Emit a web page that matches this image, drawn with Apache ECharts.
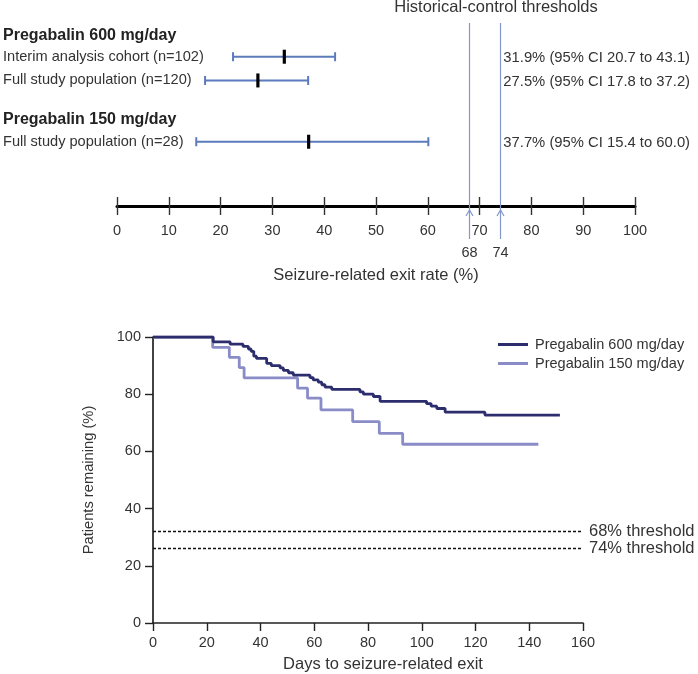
<!DOCTYPE html>
<html>
<head>
<meta charset="utf-8">
<script src="https://cdn.jsdelivr.net/npm/echarts@6/dist/echarts.min.js"></script>
<style>
html,body{margin:0;padding:0;background:#fff;}
#chart{width:698px;height:674px;}
</style>
</head>
<body>
<div id="chart"></div>
<script>
// ---------- Data ----------
const forestLabels = ['Pregabalin 600 mg/day', 'Interim analysis cohort (n=102)', 'Full study population (n=120)', 'Pregabalin 150 mg/day', 'Full study population (n=28)'];
const forestIsHeader = [true, false, false, true, false];
const forestRowPos = [0, 0.925, 1.97, 3.68, 4.67];
const estRowIndex = [1, 2, 4];
const estimates = [32.3, 27.2, 37.0];
const ciLow = [22.4, 17.0, 15.3];
const ciHigh = [42.1, 36.9, 60.1];
const ciText = ['31.9% (95% CI 20.7 to 43.1)', '27.5% (95% CI 17.8 to 37.2)', '37.7% (95% CI 15.4 to 60.0)'];
const thresholds = [68, 74];
const exitTicks = [0, 10, 20, 30, 40, 50, 60, 70, 80, 90, 100];

const km600Days = [0, 22.4, 28.7, 33.5, 35.5, 36.5, 37.5, 38.5, 42.3, 44, 47.3, 48.5, 50.4, 52.2, 58.4, 59.6, 61.5, 62.8, 64, 66.5, 77, 78.3, 82, 84.5, 101.8, 103.5, 105.6, 108.7, 123.5, 151.4];
const km600Vals = [100, 98.3, 97.5, 96.7, 95.8, 95.0, 93.3, 92.5, 90.8, 90.0, 89.2, 88.3, 87.5, 86.7, 85.8, 85.0, 84.2, 83.3, 82.5, 81.7, 80.8, 80.0, 79.2, 77.5, 76.7, 75.8, 75.0, 73.7, 72.7, 72.7];
const km150Days = [0, 22.2, 28.4, 32.1, 33.9, 53.8, 57.5, 62.5, 74.3, 84.2, 92.9, 143.4];
const km150Vals = [100, 96.4, 92.9, 89.3, 85.7, 82.1, 78.6, 74.5, 70.4, 66.3, 62.5, 62.5];

// ---------- Style ----------
const FONT = '"Liberation Sans", Arial, sans-serif';
const TXT = '#333';
const CI_COLOR = '#5b7bbd';
const TH_COLOR = '#8298cc';
const DARK = '#2c2d6d';
const LIGHT = '#8a8cc8';
const Y_MIN = -1.485, Y_MAX = 7.5;

const chart = echarts.init(document.getElementById('chart'), null, {renderer: 'canvas'});

const forestData = estRowIndex.map((r, i) => [ciLow[i], ciHigh[i], estimates[i], forestRowPos[r], i]);

const option = {
  animation: false,
  backgroundColor: '#fff',
  textStyle: {fontFamily: FONT},
  graphic: [{
    type: 'text', x: 496, y: 7.5,
    style: {text: 'Historical-control thresholds', fill: TXT, font: '16.5px ' + FONT, align: 'center', verticalAlign: 'middle'}
  }],
  legend: {
    data: ['Pregabalin 600 mg/day', 'Pregabalin 150 mg/day'],
    orient: 'vertical', left: 498, top: 336, padding: 0, itemWidth: 30, itemHeight: 3, itemGap: 2,
    icon: 'rect',
    textStyle: {color: TXT, fontSize: 14.5, fontFamily: FONT, lineHeight: 17, padding: [0, 0, 0, 2]}
  },
  grid: [
    {left: 114, right: 63, top: 2, height: 204},
    {left: 153, right: 115, top: 337, height: 286}
  ],
  xAxis: [
    {
      gridIndex: 0, type: 'value', min: 0, max: 100, interval: 10,
      axisLine: {show: true, onZero: false, lineStyle: {color: '#000', width: 3}},
      axisTick: {show: true, length: 9, lineStyle: {color: '#333', width: 1.4}},
      axisLabel: {customValues: exitTicks, color: TXT, fontSize: 14.5, margin: 17, fontFamily: FONT},
      splitLine: {show: false},
      name: 'Seizure-related exit rate (%)', nameLocation: 'middle', nameGap: 61,
      nameTextStyle: {color: TXT, fontSize: 16.5, fontFamily: FONT}
    },
    {
      gridIndex: 0, type: 'value', min: 0, max: 100, interval: 10, position: 'bottom',
      axisLine: {show: false, onZero: false},
      axisTick: {show: true, inside: true, length: 9, lineStyle: {color: '#333', width: 1.4}},
      axisLabel: {show: false}, splitLine: {show: false}
    },
    {
      gridIndex: 1, type: 'value', min: 0, max: 160, interval: 20,
      axisLine: {show: true, onZero: false, lineStyle: {color: '#222', width: 1.7}},
      axisTick: {show: true, length: 8, lineStyle: {color: '#222', width: 1.4}},
      axisLabel: {color: TXT, fontSize: 14.5, margin: 12, fontFamily: FONT},
      splitLine: {show: false},
      name: 'Days to seizure-related exit', nameLocation: 'middle', nameGap: 33,
      nameTextStyle: {color: TXT, fontSize: 16.5, fontFamily: FONT, padding: [0, 0, 0, 30]}
    }
  ],
  yAxis: [
    {
      gridIndex: 0, type: 'value', inverse: true, min: Y_MIN, max: Y_MAX,
      axisLine: {show: false}, axisTick: {show: false}, splitLine: {show: false},
      axisLabel: {
        customValues: forestRowPos,
        margin: 114, align: 'left',
        formatter: function (v) {
          const i = forestRowPos.findIndex(p => Math.abs(p - v) < 1e-6);
          if (i < 0) return '';
          return forestIsHeader[i] ? '{h|' + forestLabels[i] + '}' : '{n|' + forestLabels[i] + '}';
        },
        rich: {
          h: {fontSize: 16, fontWeight: 'bold', color: '#222', fontFamily: FONT},
          n: {fontSize: 14.6, color: TXT, fontFamily: FONT}
        }
      }
    },
    {
      gridIndex: 1, type: 'value', min: 0, max: 100, interval: 20,
      axisLine: {show: true, onZero: false, lineStyle: {color: '#222', width: 1.7}},
      axisTick: {show: true, length: 8, lineStyle: {color: '#222', width: 1.4}},
      axisLabel: {color: TXT, fontSize: 14.5, margin: 12, fontFamily: FONT},
      splitLine: {show: false},
      name: 'Patients remaining (%)', nameLocation: 'middle', nameGap: 57, nameRotate: 90,
      nameTextStyle: {color: TXT, fontSize: 14.7, fontFamily: FONT}
    }
  ],
  series: [
    {
      type: 'custom', name: 'forest', xAxisIndex: 0, yAxisIndex: 0, clip: false,
      data: forestData,
      encode: {x: [0, 1, 2], y: 3},
      renderItem: function (params, api) {
        const pos = api.value(3);
        const idx = api.value(4);
        const pL = api.coord([api.value(0), pos]);
        const pH = api.coord([api.value(1), pos]);
        const pE = api.coord([api.value(2), pos]);
        const y = pL[1];
        const tx = api.coord([thresholds[thresholds.length - 1], pos])[0] + 3;
        const ls = {stroke: CI_COLOR, lineWidth: 2};
        return {
          type: 'group',
          children: [
            {type: 'line', shape: {x1: pL[0], y1: y, x2: pH[0], y2: y}, style: ls},
            {type: 'line', shape: {x1: pL[0], y1: y - 4.5, x2: pL[0], y2: y + 4.5}, style: ls},
            {type: 'line', shape: {x1: pH[0], y1: y - 4.5, x2: pH[0], y2: y + 4.5}, style: ls},
            {type: 'rect', shape: {x: pE[0] - 1.6, y: y - 7, width: 3.2, height: 14}, style: {fill: '#000'}},
            {type: 'text', x: tx, y: y + 1.5, style: {text: ciText[idx], fill: TXT, font: '14.8px ' + FONT, align: 'left', verticalAlign: 'middle'}}
          ]
        };
      }
    },
    {
      type: 'custom', name: 'thresholds', xAxisIndex: 0, yAxisIndex: 0, clip: false,
      data: thresholds.map(t => [t, 0]),
      encode: {x: 0, y: 1},
      renderItem: function (params, api) {
        const t = api.value(0);
        const top = api.coord([t, -0.56]);
        const ax = api.coord([t, Y_MAX]);
        const x = Math.round(top[0]) + 0.5;
        const ay = ax[1];
        const st = {stroke: TH_COLOR, lineWidth: 1.2, fill: null};
        return {
          type: 'group',
          children: [
            {type: 'line', shape: {x1: x, y1: top[1], x2: x, y2: ay + 33}, style: st},
            {type: 'polyline', shape: {points: [[x - 3.5, ay + 10], [x, ay + 4], [x + 3.5, ay + 10]]}, style: st},
            {type: 'text', x: x, y: ay + 47, style: {text: String(t), fill: TXT, font: '14.5px ' + FONT, align: 'center', verticalAlign: 'middle'}}
          ]
        };
      }
    },
    {
      type: 'line', name: 'Pregabalin 600 mg/day', xAxisIndex: 2, yAxisIndex: 1,
      step: 'end', showSymbol: false, symbol: 'none',
      color: DARK,
      lineStyle: {color: DARK, width: 2.8},
      data: km600Days.map((d, i) => [d, km600Vals[i]]),
      z: 3,
      markLine: {
        silent: true, symbol: 'none',
        lineStyle: {color: '#111', type: [3, 2], width: 1.3},
        label: {
          show: true, position: 'end', distance: 6, color: TXT, fontSize: 16.5, fontFamily: FONT,
          formatter: function (p) { return p.name; }
        },
        data: thresholds.map(t => ({yAxis: 100 - t, name: t + '% threshold'}))
      }
    },
    {
      type: 'line', name: 'Pregabalin 150 mg/day', xAxisIndex: 2, yAxisIndex: 1,
      step: 'end', showSymbol: false, symbol: 'none',
      color: LIGHT,
      lineStyle: {color: LIGHT, width: 2.8},
      data: km150Days.map((d, i) => [d, km150Vals[i]]),
      z: 2
    }
  ]
};
chart.setOption(option);
</script>
</body>
</html>
